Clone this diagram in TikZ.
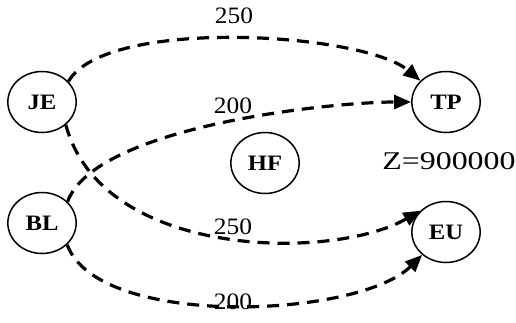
\documentclass[tikz,border=0pt]{standalone}
\usepackage{fontspec}
\setmainfont{Liberation Serif}
\usepackage{tikz}
\usetikzlibrary{arrows.meta,shapes.geometric}

\begin{document}
\begin{tikzpicture}[
  x=1pt,
  y=1pt,
  place/.style={ellipse, draw, line width=1.5pt, minimum width=61pt, minimum height=61pt, inner sep=0pt, xscale=1.12, font=\bfseries\fontsize{22}{26}\selectfont},
  lab/.style={inner sep=0pt, xscale=1.08, font=\fontsize{23.5}{27}\selectfont},
  link/.style={line width=3.2pt, dash pattern=on 12pt off 8pt, -{Triangle[length=17pt,width=14pt]}}
]
\useasboundingbox (0,0) rectangle (516,322);
% places
\foreach \nm/\x/\y in {JE/42/220, TP/446/220, HF/265/159, BL/42/99, EU/446/90}
  \node[place] (\nm) at (\x,\y) {\nm};
% weighted links
\foreach \s/\t/\o/\i/\do/\di in {
  JE.41/TP.137/60/140/75/75,
  BL.43/TP.180/70/180/80/80,
  JE.313/EU.137/285/210/140/100,
  BL.316/EU.227/290/225/90/90
}
  \draw[link] (\s) to[out=\o, in=\i, out distance=\do pt, in distance=\di pt] (\t);
\foreach \nm/\x/\y/\w in {w1/234/306/250, w2/233/216/200, w3/233/95/250, w4/233/20/200}
  \node[lab] (\nm) at (\x,\y) {\w};
\node[inner sep=0pt, xscale=1.25, font=\fontsize{25.5}{30}\selectfont] (zval) at (449,160.5) {Z=900000};
\end{tikzpicture}
\end{document}
